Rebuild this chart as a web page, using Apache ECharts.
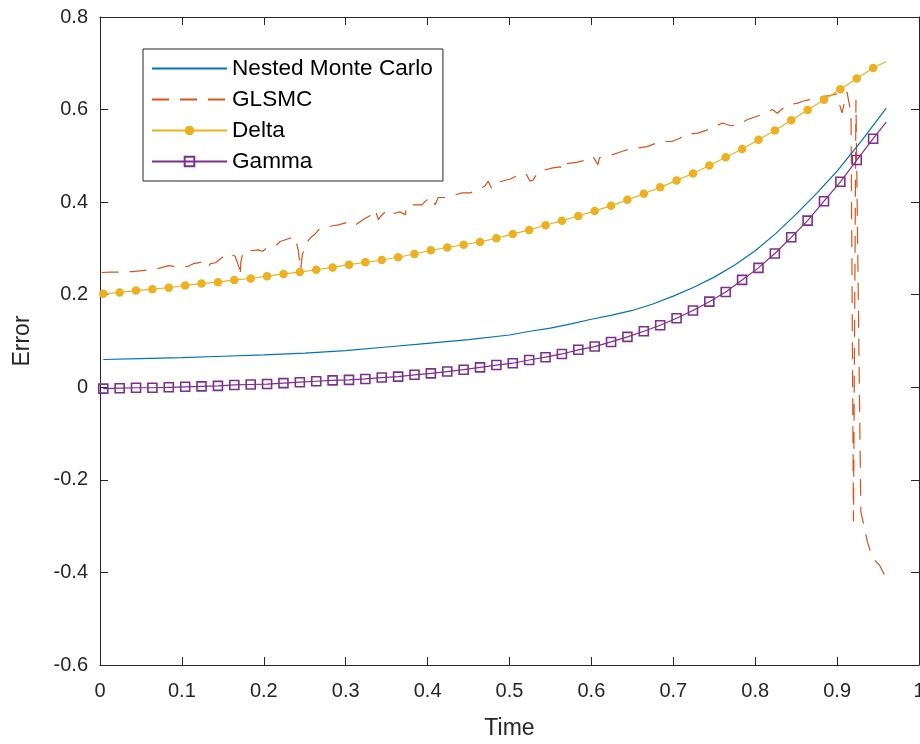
<!DOCTYPE html>
<html>
<head>
<meta charset="utf-8">
<script src="https://cdn.jsdelivr.net/npm/echarts@6/dist/echarts.min.js"></script>
<style>html,body{margin:0;padding:0;background:#fff;overflow:hidden}#c{width:920px;height:744px}</style>
</head>
<body>
<div id="c"></div>
<script>
// ---- data ----
const seriesNames = ['Nested Monte Carlo', 'GLSMC', 'Delta', 'Gamma'];
const xTicks = [0, 0.1, 0.2, 0.3, 0.4, 0.5, 0.6, 0.7, 0.8, 0.9, 1];
const yTicks = [-0.6, -0.4, -0.2, 0, 0.2, 0.4, 0.6, 0.8];

// marker times (Delta & Gamma), last value is line end (no marker)
const tMarks = [0.004, 0.024, 0.044, 0.064, 0.084, 0.104, 0.124, 0.144, 0.164, 0.184,
  0.204, 0.224, 0.244, 0.264, 0.284, 0.304, 0.324, 0.344, 0.364, 0.384,
  0.404, 0.424, 0.444, 0.464, 0.484, 0.504, 0.524, 0.544, 0.564, 0.584,
  0.604, 0.624, 0.644, 0.664, 0.684, 0.704, 0.724, 0.744, 0.764, 0.784,
  0.804, 0.824, 0.844, 0.864, 0.884, 0.904, 0.924, 0.944, 0.96];
const deltaVals = [0.202, 0.205, 0.209, 0.212, 0.215, 0.220, 0.224, 0.227, 0.232, 0.235,
  0.240, 0.245, 0.249, 0.254, 0.259, 0.265, 0.270, 0.275, 0.281, 0.288,
  0.296, 0.302, 0.308, 0.314, 0.322, 0.331, 0.340, 0.350, 0.360, 0.370,
  0.381, 0.392, 0.405, 0.418, 0.432, 0.447, 0.462, 0.479, 0.497, 0.515,
  0.535, 0.555, 0.577, 0.599, 0.621, 0.644, 0.667, 0.690, 0.704];
const gammaVals = [-0.003, -0.002, -0.001, -0.001, 0.000, 0.001, 0.002, 0.003, 0.005, 0.006,
  0.007, 0.009, 0.011, 0.013, 0.015, 0.016, 0.018, 0.021, 0.023, 0.027,
  0.030, 0.034, 0.038, 0.043, 0.048, 0.052, 0.059, 0.065, 0.072, 0.081,
  0.088, 0.098, 0.109, 0.121, 0.134, 0.149, 0.166, 0.185, 0.206, 0.232,
  0.258, 0.289, 0.324, 0.360, 0.402, 0.444, 0.491, 0.537, 0.573];

const tNested = [0.004, 0.05, 0.1, 0.15, 0.2, 0.25, 0.3, 0.35, 0.4, 0.45, 0.5, 0.525, 0.55,
  0.575, 0.6, 0.625, 0.65, 0.675, 0.7, 0.725, 0.75, 0.775, 0.8, 0.825, 0.85, 0.875, 0.9,
  0.93, 0.96];
const nestedVals = [0.060, 0.062, 0.064, 0.067, 0.070, 0.074, 0.079, 0.087, 0.095, 0.103, 0.113,
  0.121, 0.128, 0.137, 0.147, 0.156, 0.166, 0.180, 0.197, 0.216, 0.238, 0.264, 0.295, 0.332,
  0.374, 0.419, 0.467, 0.533, 0.603];

const tGlsmc = [0.002, 0.013, 0.025, 0.040, 0.062, 0.074, 0.084, 0.092, 0.107, 0.114,
  0.123, 0.131, 0.135, 0.141, 0.151, 0.157, 0.165, 0.170, 0.171, 0.172,
  0.175, 0.184, 0.193, 0.199, 0.205, 0.216, 0.220, 0.230, 0.238, 0.242,
  0.245, 0.247, 0.252, 0.257, 0.262, 0.269, 0.275, 0.284, 0.291, 0.305,
  0.312, 0.321, 0.330, 0.336, 0.340, 0.342, 0.351, 0.355, 0.360, 0.366,
  0.373, 0.374, 0.382, 0.393, 0.399, 0.403, 0.407, 0.409, 0.413, 0.425,
  0.434, 0.442, 0.452, 0.462, 0.470, 0.474, 0.478, 0.482, 0.501, 0.509,
  0.516, 0.521, 0.525, 0.529, 0.535, 0.553, 0.562, 0.568, 0.570, 0.582,
  0.596, 0.602, 0.608, 0.610, 0.625, 0.638, 0.647, 0.657, 0.668, 0.684,
  0.698, 0.708, 0.714, 0.730, 0.738, 0.747, 0.760, 0.770, 0.779, 0.790,
  0.808, 0.821, 0.827, 0.834, 0.840, 0.852, 0.858, 0.865, 0.873, 0.882,
  0.891, 0.899, 0.906, 0.912, 0.917, 0.920, 0.923, 0.929, 0.934, 0.937,
  0.943, 0.952, 0.960];
const glsmcVals = [0.248, 0.249, 0.249, 0.250, 0.254, 0.258, 0.263, 0.261, 0.261, 0.267,
  0.270, 0.258, 0.267, 0.269, 0.283, 0.290, 0.283, 0.258, 0.240, 0.271,
  0.294, 0.295, 0.297, 0.294, 0.304, 0.308, 0.315, 0.321, 0.325, 0.297,
  0.254, 0.286, 0.312, 0.323, 0.330, 0.344, 0.345, 0.349, 0.351, 0.358,
  0.351, 0.362, 0.371, 0.384, 0.362, 0.368, 0.384, 0.379, 0.376, 0.379,
  0.373, 0.392, 0.394, 0.394, 0.405, 0.399, 0.405, 0.394, 0.410, 0.410,
  0.416, 0.420, 0.420, 0.427, 0.435, 0.445, 0.430, 0.441, 0.450, 0.457,
  0.463, 0.459, 0.445, 0.448, 0.466, 0.474, 0.476, 0.470, 0.483, 0.486,
  0.492, 0.498, 0.481, 0.496, 0.502, 0.510, 0.515, 0.517, 0.520, 0.531,
  0.531, 0.538, 0.546, 0.549, 0.554, 0.560, 0.571, 0.565, 0.567, 0.578,
  0.589, 0.600, 0.592, 0.603, 0.610, 0.614, 0.618, 0.621, 0.623, 0.628,
  0.630, 0.634, 0.593, 0.638, 0.593, -0.290, 0.621, -0.269, -0.308, -0.334,
  -0.368, -0.385, -0.413];

// ---- build ----
const pairs = (ts, vs) => ts.map((t, i) => [t, vs[i]]);
const markedPairs = (ts, vs) => ts.map((t, i) =>
  i === ts.length - 1 ? { value: [t, vs[i]], symbol: 'none' } : [t, vs[i]]);

const FONT = 'Liberation Sans, Arial, Helvetica, sans-serif';
const AX = '#262626';
const C = { blue: '#0072BD', orange: '#D95319', yellow: '#EDB120', purple: '#7E2F8E' };

const xMin = xTicks[0], xMax = xTicks[xTicks.length - 1], xInt = xTicks[1] - xTicks[0];
const yMin = yTicks[0], yMax = yTicks[yTicks.length - 1], yInt = 0.2;

const axisCommon = {
  type: 'value',
  axisLine: { show: true, onZero: false, lineStyle: { color: AX, width: 1 } },
  axisTick: { show: true, inside: true, length: 8, lineStyle: { color: AX, width: 1 } },
  splitLine: { show: false },
  axisLabel: { color: AX, fontSize: 20, fontFamily: FONT },
  nameTextStyle: { color: AX, fontSize: 23, fontFamily: FONT }
};

const chart = echarts.init(document.getElementById('c'), null,
  { renderer: 'canvas', width: 920, height: 744 });
chart.setOption({
  backgroundColor: '#fff',
  animation: false,
  grid: { left: 100, right: 1, top: 17, bottom: 79, containLabel: false, outerBoundsMode: 'none' },
  xAxis: [
    Object.assign({}, axisCommon, {
      min: xMin, max: xMax, interval: xInt, position: 'bottom',
      name: 'Time', nameLocation: 'middle', nameGap: 52,
      axisLabel: Object.assign({}, axisCommon.axisLabel, { margin: 16, showMaxLabel: true,
        formatter: v => String(Math.round(v * 10) / 10) })
    }),
    Object.assign({}, axisCommon, {
      min: xMin, max: xMax, interval: xInt, position: 'top',
      axisLabel: { show: false }
    })
  ],
  yAxis: [
    Object.assign({}, axisCommon, {
      min: yMin, max: yMax, interval: yInt, position: 'left',
      name: 'Error', nameLocation: 'middle', nameGap: 66, nameRotate: 90,
      axisLabel: Object.assign({}, axisCommon.axisLabel, { margin: 12,
        formatter: v => String(Math.round(v * 10) / 10) })
    }),
    Object.assign({}, axisCommon, {
      min: yMin, max: yMax, interval: yInt, position: 'right',
      axisLabel: { show: false }
    })
  ],
  legend: {
    orient: 'vertical',
    left: 143, top: 49,
    padding: [8, 10, 8, 8],
    itemWidth: 75, itemHeight: 12, itemGap: 8,
    backgroundColor: '#fff',
    borderColor: AX, borderWidth: 1,
    textStyle: { color: '#000', fontSize: 22.6, fontFamily: FONT, lineHeight: 22 },
    data: [
      { name: seriesNames[0], itemStyle: { opacity: 0 } },
      { name: seriesNames[1], itemStyle: { opacity: 0 } },
      { name: seriesNames[2] },
      { name: seriesNames[3] }
    ]
  },
  series: [
    {
      name: seriesNames[0], type: 'line', data: pairs(tNested, nestedVals),
      symbol: 'none', showSymbol: false,
      lineStyle: { color: C.blue, width: 1.2 }, itemStyle: { color: C.blue }, z: 3
    },
    {
      name: seriesNames[1], type: 'line', data: pairs(tGlsmc, glsmcVals),
      symbol: 'none', showSymbol: false,
      lineStyle: { color: C.orange, width: 1.2, type: [17, 11] }, itemStyle: { color: C.orange }, z: 2
    },
    {
      name: seriesNames[2], type: 'line', data: markedPairs(tMarks, deltaVals),
      symbol: 'circle', symbolSize: 8.5, showSymbol: true,
      lineStyle: { color: C.yellow, width: 1.2 }, itemStyle: { color: C.yellow }, z: 4
    },
    {
      name: seriesNames[3], type: 'line', data: markedPairs(tMarks, gammaVals),
      symbol: 'rect', symbolSize: 9, showSymbol: true,
      lineStyle: { color: C.purple, width: 1.2 },
      itemStyle: { color: 'rgba(255,255,255,0)', borderColor: C.purple, borderWidth: 1.6 }, z: 5
    }
  ]
});
</script>
</body>
</html>
